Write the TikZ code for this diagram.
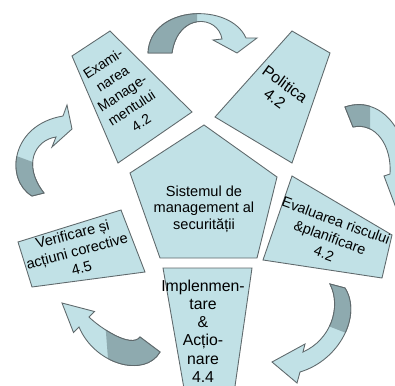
\documentclass[tikz,border=0pt]{standalone}
\usepackage{fontspec}
\setmainfont{Liberation Sans}
\definecolor{boxblue}{RGB}{193,225,230}
\definecolor{arrowgray}{RGB}{142,170,175}
\definecolor{edgegray}{RGB}{95,105,108}
\tikzset{
  toparrow/.style={insert path={(148,53) .. controls (150,5) and (230,2) .. (246,38) -- (257,38) -- (237,53) -- (213,40) -- (222,39) .. controls (218,15) and (178,12) .. (172,53) -- cycle}},
  rightarrow/.style={insert path={(345,107) .. controls (380,95) and (408,130) .. (407,172) -- (414,171) -- (396,208) -- (384,176) -- (390,174) .. controls (392,145) and (375,122) .. (353,127) -- cycle}},
  lowrightarrow/.style={insert path={(345,288) .. controls (362,315) and (340,360) .. (300,372) -- (297,383) -- (272,362) -- (305,344) -- (303,352) .. controls (330,340) and (342,308) .. (330,284) -- cycle}},
  lowleftarrow/.style={insert path={(89,317) .. controls (99,327) and (131,349) .. (140,337) -- (160,352) .. controls (145,378) and (95,365) .. (79,327) -- (73.5,332.5) -- (62,303) -- (94.5,311.5) -- cycle}},
  leftarrow/.style={insert path={(32,196) .. controls (5,180) and (10,125) .. (63,116) -- (67,105) -- (72,129) -- (52,147) -- (56,137) .. controls (35,140) and (22,165) .. (44,193) -- cycle}}
}
\begin{document}
\begin{tikzpicture}[x=0.02cm, y=-0.02cm,
  box/.style={fill=boxblue, draw=edgegray, line width=0.5pt},
  arrowlight/.style={fill=boxblue, draw=edgegray, line width=0.5pt},
  arrowdark/.style={fill=arrowgray, draw=edgegray, line width=0.5pt},
  lbl/.style={align=center, inner sep=0pt, font=\fontsize{8.3}{10}\selectfont}]
  \useasboundingbox (0,0) rectangle (395,385);
  \clip (0,0) rectangle (395,385);

  \draw[box] (204,125) -- (277,177) -- (257,258) -- (160,258) -- (130,173) -- cycle;
  \node[lbl, font=\fontsize{8.3}{9.5}\selectfont] (sistem) at (204,209) {Sistemul de\\management al\\securității};

  \draw[box] (72,56) -- (110,31) -- (192,112) -- (118,163) -- cycle;
  \node[lbl, font=\fontsize{8}{10}\selectfont, rotate=33] (examinare) at (122,93) {Exami-\\narea\\Manage-\\mentului\\4.2};

  \draw[box] (292,31) -- (330,53) -- (292,163) -- (215,117) -- cycle;
  \node[lbl, font=\fontsize{9}{10}\selectfont, rotate=-36] (politica) at (280,91) {Politica\\4.2};

  \draw[box] (292,176) -- (392,235) -- (382,278) -- (263,260) -- cycle;
  \node[lbl, font=\fontsize{8.2}{10}\selectfont, rotate=-20] (evaluare) at (330,237) {Evaluarea riscului\\\&planificare\\4.2};

  \draw[box] (163,268) -- (252,268) -- (233,400) -- (186,400) -- cycle;
  \node[lbl, font=\fontsize{9}{10.4}\selectfont] (implement) at (203,331) {Implenmen-\\tare\\\&\\Acțio-\\nare\\4.4};

  \draw[box] (18,242) -- (121,210) -- (145,272) -- (32,287) -- cycle;
  \node[lbl, rotate=15] (verificare) at (77,251) {Verificare și\\acțiuni corective\\4.5};

  \filldraw[arrowlight, toparrow];
  \begin{scope}
    \clip (0,0) rectangle (197,70);
    \filldraw[arrowdark, toparrow];
  \end{scope}

  \filldraw[arrowlight, rightarrow];
  \begin{scope}
    \clip (300,80) rectangle (370,150);
    \filldraw[arrowdark, rightarrow];
  \end{scope}

  \filldraw[arrowlight, lowrightarrow];
  \begin{scope}
    \clip (300,270) -- (395,270) -- (395,352) -- (300,315) -- cycle;
    \filldraw[arrowdark, lowrightarrow];
  \end{scope}

  \filldraw[arrowlight, lowleftarrow];
  \begin{scope}
    \clip (105,320) -- (200,320) -- (200,385) -- (110,385) -- cycle;
    \filldraw[arrowdark, lowleftarrow];
  \end{scope}

  \filldraw[arrowlight, leftarrow];
  \begin{scope}
    \clip (0,150) -- (60,172) -- (60,220) -- (0,220) -- cycle;
    \filldraw[arrowdark, leftarrow];
  \end{scope}
\end{tikzpicture}
\end{document}
